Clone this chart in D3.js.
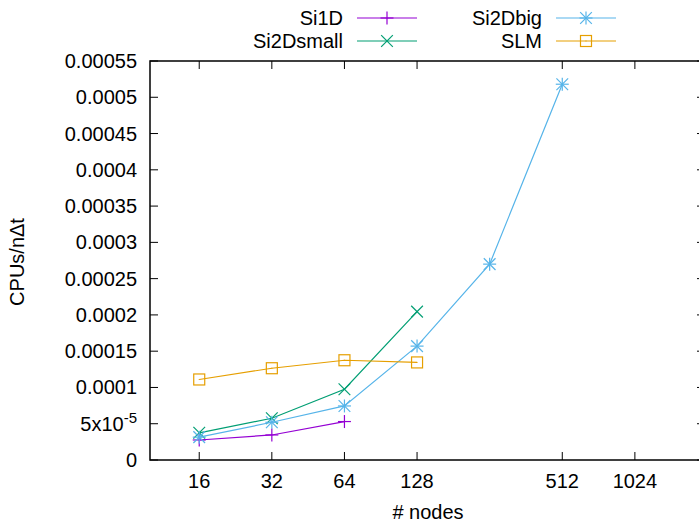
<!DOCTYPE html>
<html>
<head>
<meta charset="utf-8">
<script src="https://cdn.jsdelivr.net/npm/d3@7"></script>
<style>
  body { margin: 0; background: #fff; }
  svg text { font-family: "Liberation Sans", Arial, sans-serif; fill: #000; }
</style>
</head>
<body>
<div id="chart"></div>
<script>
// data
var nodes = [16, 32, 64, 128, 256, 512];
var xTicks = [16, 32, 64, 128, 512, 1024];
var yTicks = [0, 0.00005, 0.0001, 0.00015, 0.0002, 0.00025, 0.0003, 0.00035, 0.0004, 0.00045, 0.0005, 0.00055];

var si1d = [2.76e-5, 3.45e-5, 5.3e-5];
var si2dsmall = [3.75e-5, 5.75e-5, 9.75e-5, 2.045e-4];
var si2dbig = [3.15e-5, 5.2e-5, 7.45e-5, 1.57e-4, 2.70e-4, 5.18e-4];
var slm = [1.11e-4, 1.265e-4, 1.375e-4, 1.345e-4];

var seriesNames = ["Si1D", "Si2Dsmall", "Si2Dbig", "SLM"];
var seriesColors = ["#9400d3", "#009e73", "#56b4e9", "#e69f00"];
var seriesMarks = ["plus", "cross", "star", "square"];

var W = 699, H = 525;
var margin = { left: 150, top: 61, right: 705, bottom: 460 };

var x = d3.scaleLog().base(2).domain([10, 2000]).range([margin.left, margin.right]);
var y = d3.scaleLinear().domain([0, 0.00055]).range([margin.bottom, margin.top]);

var svg = d3.select("#chart").append("svg")
    .attr("width", W)
    .attr("height", H);

// ticks (inward, mirrored)
var tl = 8;
var axes = svg.append("g").attr("stroke", "#000").attr("stroke-width", 1);
yTicks.forEach(function(v){
  axes.append("line").attr("x1", margin.left).attr("x2", margin.left + tl)
    .attr("y1", y(v)).attr("y2", y(v));
  axes.append("line").attr("x1", margin.right).attr("x2", margin.right - tl)
    .attr("y1", y(v)).attr("y2", y(v));
});
xTicks.forEach(function(v){
  axes.append("line").attr("x1", x(v)).attr("x2", x(v))
    .attr("y1", margin.bottom).attr("y2", margin.bottom - tl);
  axes.append("line").attr("x1", x(v)).attr("x2", x(v))
    .attr("y1", margin.top).attr("y2", margin.top + tl);
});

svg.append("rect")
  .attr("x", margin.left).attr("y", margin.top)
  .attr("width", margin.right - margin.left)
  .attr("height", margin.bottom - margin.top)
  .attr("fill", "none").attr("stroke", "#000").attr("stroke-width", 1.5);

// tick labels
yTicks.forEach(function(v){
  var t = svg.append("text")
    .attr("x", 137).attr("y", y(v) + 7)
    .attr("text-anchor", "end")
    .style("font-size", "20px");
  if (v === 0.00005) {
    t.append("tspan").text("5x10");
    t.append("tspan").attr("dy", -8).style("font-size", "15px").text("-5");
  } else {
    t.text(String(+v.toFixed(5)));
  }
});
xTicks.forEach(function(v){
  svg.append("text")
    .attr("x", x(v)).attr("y", 488)
    .attr("text-anchor", "middle")
    .style("font-size", "20px")
    .text(v);
});

svg.append("text")
  .attr("x", 428).attr("y", 519)
  .attr("text-anchor", "middle")
  .style("font-size", "20px")
  .text("# nodes");
svg.append("text")
  .attr("transform", "translate(24,262) rotate(-90)")
  .attr("text-anchor", "middle")
  .style("font-size", "20px")
  .text("CPUs/n\u0394t");

// markers
function drawMark(g, kind, cx, cy, color) {
  var s = 6.5;
  var p = g.append("g").attr("stroke", color).attr("stroke-width", 1.2).attr("fill", "none");
  if (kind === "plus" || kind === "star") {
    p.append("line").attr("x1", cx - s).attr("x2", cx + s).attr("y1", cy).attr("y2", cy);
    p.append("line").attr("x1", cx).attr("x2", cx).attr("y1", cy - s).attr("y2", cy + s);
  }
  if (kind === "cross" || kind === "star") {
    var d = s * 0.9;
    p.append("line").attr("x1", cx - d).attr("x2", cx + d).attr("y1", cy - d).attr("y2", cy + d);
    p.append("line").attr("x1", cx - d).attr("x2", cx + d).attr("y1", cy + d).attr("y2", cy - d);
  }
  if (kind === "square") {
    p.append("rect").attr("x", cx - 5.5).attr("y", cy - 5.5).attr("width", 11).attr("height", 11);
    p.append("rect").attr("x", cx - 0.5).attr("y", cy - 0.5).attr("width", 1).attr("height", 1)
      .attr("fill", color).attr("stroke", "none");
  }
}

var allSeries = [si1d, si2dsmall, si2dbig, slm];
var line = d3.line()
  .x(function(d){ return x(d[0]); })
  .y(function(d){ return y(d[1]); });

allSeries.forEach(function(vals, i){
  var pts = vals.map(function(v, j){ return [nodes[j], v]; });
  var g = svg.append("g");
  g.append("path").datum(pts)
    .attr("d", line)
    .attr("fill", "none")
    .attr("stroke", seriesColors[i])
    .attr("stroke-width", 1.2);
  pts.forEach(function(d){
    drawMark(g, seriesMarks[i], x(d[0]), y(d[1]), seriesColors[i]);
  });
});

// legend, two columns
var legendPos = [
  { tx: 343, lx: 357, y: 18 },
  { tx: 343, lx: 357, y: 41 },
  { tx: 542, lx: 556, y: 18 },
  { tx: 542, lx: 556, y: 41 }
];
seriesNames.forEach(function(name, i){
  var lp = legendPos[i];
  var g = svg.append("g");
  g.append("text")
    .attr("x", lp.tx).attr("y", lp.y + 7)
    .attr("text-anchor", "end")
    .style("font-size", "20px")
    .text(name);
  g.append("line")
    .attr("x1", lp.lx).attr("x2", lp.lx + 60)
    .attr("y1", lp.y).attr("y2", lp.y)
    .attr("stroke", seriesColors[i]).attr("stroke-width", 1.2);
  drawMark(g, seriesMarks[i], lp.lx + 30, lp.y, seriesColors[i]);
});
</script>
</body>
</html>
